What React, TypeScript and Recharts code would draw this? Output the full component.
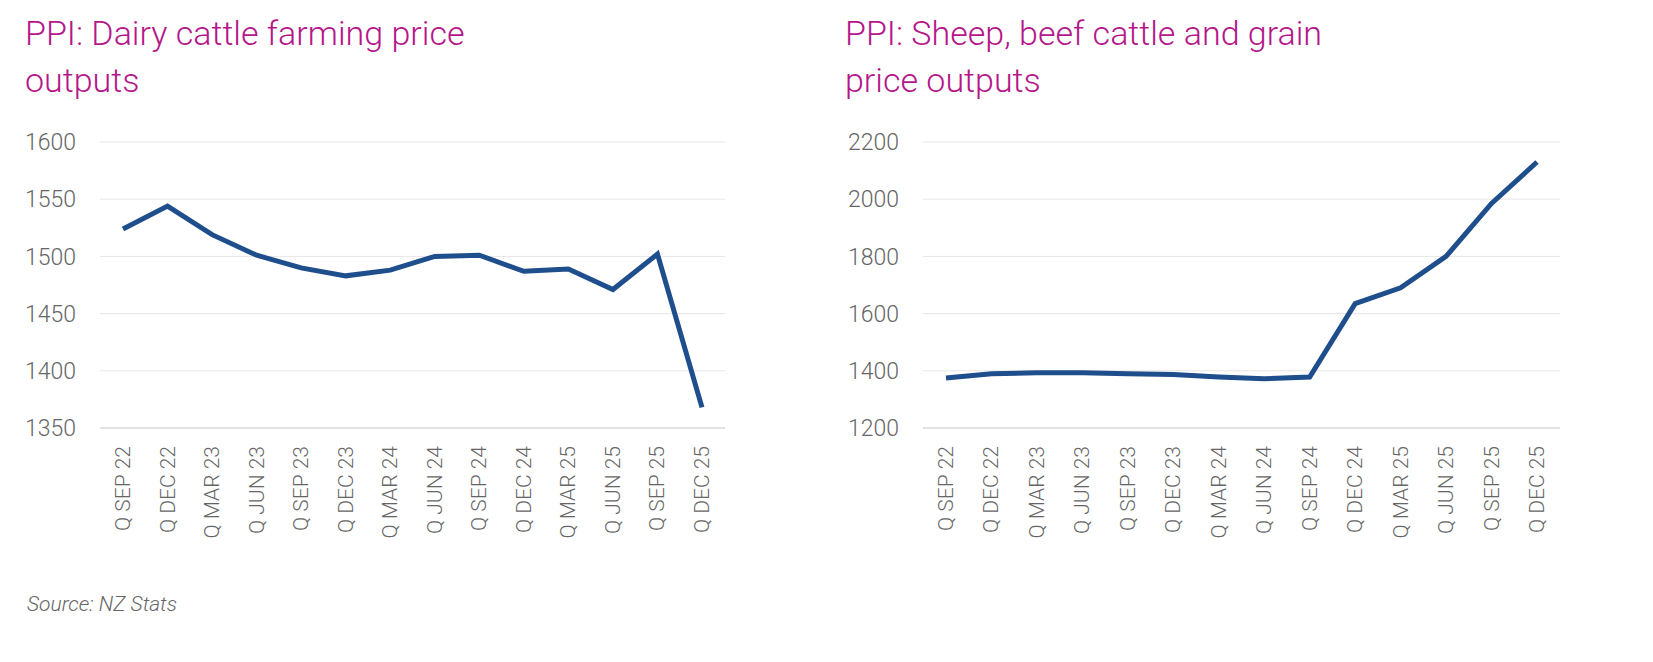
import { LineChart, Line, XAxis, YAxis, CartesianGrid } from 'recharts';

const quarters = ['Q SEP 22', 'Q DEC 22', 'Q MAR 23', 'Q JUN 23', 'Q SEP 23', 'Q DEC 23', 'Q MAR 24', 'Q JUN 24', 'Q SEP 24', 'Q DEC 24', 'Q MAR 25', 'Q JUN 25', 'Q SEP 25', 'Q DEC 25'];
const dairy = [1524, 1544, 1519, 1501, 1490, 1483, 1488, 1500, 1501, 1487, 1489, 1471, 1502, 1368];
const sheepBeef = [1375, 1390, 1393, 1393, 1390, 1387, 1378, 1372, 1378, 1635, 1690, 1800, 1985, 2130];
const dairyTicks = [1350, 1400, 1450, 1500, 1550, 1600];
const sheepTicks = [1200, 1400, 1600, 1800, 2000, 2200];

const font = 'Roboto, "DejaVu Sans", sans-serif';
const pink = '#b5168a';
const navy = '#1f4e8c';

const RotatedTick = (props: any) => {
  const { x, y, payload } = props;
  return (
    <text x={x} y={y + 10} transform={`rotate(-90 ${x} ${y + 10})`} textAnchor="end" dominantBaseline="central"
      fill="#666" fontSize={21} fontFamily={font} fontWeight={300}>
      {payload.value}
    </text>
  );
};

function Panel({ values, ticks, domain, width, yWidth, pad }: { values: number[]; ticks: number[]; domain: [number, number]; width: number; yWidth: number; pad: number }) {
  const data = quarters.map((q, i) => ({ q, v: values[i] }));
  return (
    <LineChart width={width} height={570} data={data} margin={{ top: 142, right: 0, left: 0, bottom: 0 }}>
      <CartesianGrid vertical={false} stroke="#e6e6e6" />
      <XAxis dataKey="q" interval={0} height={142} padding={{ left: pad, right: pad }} tick={<RotatedTick />} tickLine={false} stroke="#d0d0d0" />
      <YAxis domain={domain} ticks={ticks} width={yWidth} axisLine={false} tickLine={false} tickSize={0} tickMargin={24}
        tick={{ fill: '#666', fontSize: 23, fontFamily: font, fontWeight: 300 }} />
      <Line dataKey="v" stroke={navy} strokeWidth={5} dot={false} isAnimationActive={false} />
    </LineChart>
  );
}

const titleStyle: React.CSSProperties = { position: 'absolute', color: pink, fontFamily: font, fontSize: 34, lineHeight: '47px', fontWeight: 300 };

export default function App() {
  return (
    <div style={{ position: 'absolute', left: 0, top: 0, width: 1653, height: 662, background: '#fff', overflow: 'hidden' }}>
      <div style={{ ...titleStyle, left: 25, top: 10 }}>PPI: Dairy cattle farming price<br />outputs</div>
      <div style={{ ...titleStyle, left: 845, top: 10 }}>PPI: Sheep, beef cattle and grain<br />price outputs</div>
      <div style={{ position: 'absolute', left: 0, top: 0 }}>
        <Panel values={dairy} ticks={dairyTicks} domain={[1350, 1600]} width={725} yWidth={100} pad={23} />
      </div>
      <div style={{ position: 'absolute', left: 820, top: 0 }}>
        <Panel values={sheepBeef} ticks={sheepTicks} domain={[1200, 2200]} width={740} yWidth={103} pad={23} />
      </div>
      <div style={{ position: 'absolute', left: 27, top: 592, color: '#666', fontFamily: font, fontSize: 21, fontStyle: 'italic', fontWeight: 300 }}>
        Source: NZ Stats
      </div>
    </div>
  );
}
